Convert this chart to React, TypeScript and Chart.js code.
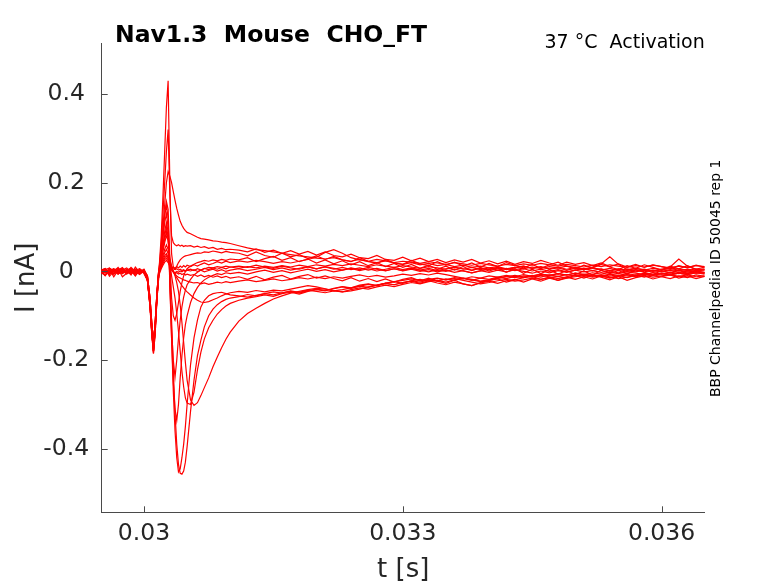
import React, { useEffect, useRef } from 'react';
import { Chart, registerables } from 'chart.js';

Chart.register(...registerables);

// sample times [s] shared by all sweeps
const timeS = [
  0.0295, 0.02955, 0.0296, 0.02965, 0.0297, 0.02975, 0.0298, 0.02985, 0.0299, 0.02995, 0.03,
  0.03004, 0.03007, 0.03009, 0.03011, 0.03013, 0.03015, 0.03017,
  0.0302, 0.03022, 0.03024, 0.03026, 0.03028, 0.0303, 0.03032, 0.03034,
  0.03036, 0.03038, 0.0304, 0.03042, 0.03044, 0.03046, 0.03048, 0.0305,
  0.03054, 0.03058, 0.03062, 0.03066, 0.0307, 0.03075, 0.0308, 0.03085, 0.0309, 0.03095, 0.031,
  0.0311, 0.0312, 0.0313, 0.0314, 0.0315, 0.0316, 0.0317, 0.0318, 0.0319, 0.032,
  0.0321, 0.0322, 0.0323, 0.0324, 0.0325, 0.0326, 0.0327, 0.0328, 0.0329, 0.033,
  0.0331, 0.0332, 0.0333, 0.0334, 0.0335, 0.0336, 0.0337, 0.0338, 0.0339, 0.034,
  0.0341, 0.0342, 0.0343, 0.0344, 0.0345, 0.0346, 0.0347, 0.0348, 0.0349, 0.035,
  0.0351, 0.0352, 0.0353, 0.0354, 0.0355, 0.0356, 0.0357, 0.0358, 0.0359, 0.036,
  0.0361, 0.0362, 0.0363, 0.0364, 0.0365,
];

// current [nA] per sweep
const sweep01 = [
  0.004, -0.003, 0.006, 0.001, -0.005, 0.003, 0.008, -0.002, 0.002, -0.004, 0.001,
  -0.02, -0.075, -0.135, -0.18, -0.13, -0.06, -0.01,
  0.08, 0.17, 0.27, 0.37, 0.43, 0.2, 0.04, 0.01, 0.005, 0.012, 0.02, 0.026, 0.03, 0.033, 0.035, 0.036,
  0.038, 0.04, 0.042, 0.041, 0.044, 0.043, 0.046, 0.044, 0.042, 0.045, 0.043,
  0.041, 0.035, 0.044, 0.036, 0.032, 0.041, 0.033, 0.038, 0.029, 0.035,
  0.027, 0.034, 0.026, 0.022, 0.031, 0.023, 0.018, 0.027, 0.019, 0.016,
  0.025, 0.017, 0.013, 0.022, 0.014, 0.021, 0.012, 0.019, 0.01, 0.018,
  0.011, 0.02, 0.014, 0.008, 0.016, 0.007, 0.015, 0.021, 0.012, 0.006,
  0.014, 0.008, 0.016, 0.01, 0.004, 0.013, 0.007, 0.015, 0.009, 0.003,
  0.012, 0.006, 0.013, 0.005, 0.01,
];
const sweep02 = [
  -0.002, 0.005, -0.004, 0.003, 0.007, -0.001, 0.002, 0.006, -0.003, 0.004, 0.0,
  -0.015, -0.07, -0.125, -0.17, -0.125, -0.055, -0.005,
  0.06, 0.13, 0.2, 0.27, 0.32, 0.17, 0.08, 0.065, 0.06, 0.058, 0.06, 0.057, 0.059, 0.056, 0.058, 0.057,
  0.058, 0.055, 0.057, 0.054, 0.056, 0.052, 0.054, 0.05, 0.052, 0.049, 0.05,
  0.048, 0.044, 0.051, 0.043, 0.048, 0.041, 0.047, 0.039, 0.045, 0.037,
  0.044, 0.036, 0.033, 0.039, 0.031, 0.029, 0.036, 0.027, 0.025, 0.032,
  0.024, 0.03, 0.022, 0.027, 0.02, 0.026, 0.021, 0.027, 0.019, 0.024,
  0.017, 0.023, 0.016, 0.022, 0.018, 0.025, 0.019, 0.014, 0.021, 0.016,
  0.02, 0.013, 0.019, 0.011, 0.017, 0.01, 0.016, 0.009, 0.015, 0.011,
  0.006, 0.013, 0.008, 0.014, 0.009,
];
const sweep03 = [
  0.004, -0.01, 0.002, -0.006, 0.006, -0.012, -0.004, 0.005, -0.009, 0.002, -0.003,
  -0.02, -0.08, -0.14, -0.185, -0.14, -0.065, -0.015,
  0.05, 0.1, 0.15, 0.2, 0.225, 0.215, 0.2, 0.18, 0.16, 0.142, 0.127, 0.113, 0.104, 0.097, 0.092, 0.088,
  0.085, 0.081, 0.077, 0.074, 0.073, 0.071, 0.069, 0.068, 0.066, 0.065, 0.063,
  0.058, 0.053, 0.049, 0.047, 0.044, 0.041, 0.038, 0.035, 0.033, 0.03,
  0.028, 0.031, 0.026, 0.023, 0.027, 0.022, 0.02, 0.024, 0.019, 0.016,
  0.02, 0.015, 0.018, 0.013, 0.016, 0.011, 0.014, 0.009, 0.012, 0.008,
  0.011, 0.006, 0.009, 0.012, 0.007, 0.01, 0.005, 0.008, 0.003, 0.007,
  0.004, 0.008, 0.005, 0.002, 0.006, 0.003, 0.007, 0.004, 0.001, 0.005,
  0.002, 0.006, 0.003, 0.0, 0.004,
];
const sweep04 = [
  -0.005, 0.002, -0.001, 0.006, -0.004, 0.001, -0.006, 0.0, 0.005, -0.002, 0.003,
  -0.01, -0.06, -0.115, -0.16, -0.115, -0.05, 0.0,
  0.04, 0.09, 0.13, 0.158, 0.14, 0.03, -0.06, -0.1, -0.11, -0.095, -0.07, -0.045, -0.025, -0.01, 0.0, 0.006,
  0.012, 0.016, 0.02, 0.022, 0.025, 0.023, 0.026, 0.024, 0.027, 0.025, 0.028,
  0.026, 0.031, 0.022, 0.029, 0.034, 0.025, 0.031, 0.022, 0.028, 0.019,
  0.026, 0.017, 0.024, 0.015, 0.022, 0.013, 0.02, 0.011, 0.018, 0.009,
  0.016, 0.007, 0.014, 0.005, 0.012, 0.003, 0.011, 0.002, 0.009, 0.001,
  0.008, -0.002, 0.006, -0.004, 0.005, -0.005, 0.004, -0.006, 0.002, -0.007,
  0.001, -0.008, 0.003, -0.005, 0.002, -0.006, 0.004, -0.002, -0.007, 0.002,
  -0.004, 0.003, -0.005, 0.002, -0.003,
];
const sweep05 = [
  0.006, 0.0, -0.004, 0.002, -0.002, 0.005, 0.001, -0.005, 0.002, 0.006, -0.001,
  -0.02, -0.075, -0.135, -0.18, -0.13, -0.06, -0.01,
  0.04, 0.085, 0.125, 0.15, 0.12, -0.02, -0.13, -0.2, -0.238, -0.2, -0.15, -0.11, -0.08, -0.058, -0.042, -0.03,
  -0.018, -0.008, -0.002, 0.003, 0.006, 0.009, 0.008, 0.011, 0.009, 0.012, 0.01,
  0.012, 0.009, 0.014, 0.01, 0.007, 0.012, 0.008, 0.005, 0.01, 0.006,
  0.011, 0.007, 0.003, 0.008, 0.004, 0.009, 0.005, 0.001, 0.006, 0.002,
  0.007, 0.003, -0.001, 0.004, 0.0, 0.005, 0.001, -0.003, 0.002, -0.002,
  0.003, -0.001, 0.004, 0.0, -0.004, 0.001, -0.003, 0.002, -0.002, 0.003,
  -0.001, 0.002, -0.002, 0.001, -0.003, 0.002, -0.001, 0.003, -0.002, 0.001,
  -0.002, 0.002, -0.001, 0.001, -0.002,
];
const sweep06 = [
  -0.003, 0.004, 0.008, -0.002, 0.001, -0.005, 0.003, 0.007, -0.004, 0.0, 0.004,
  -0.015, -0.07, -0.125, -0.17, -0.125, -0.055, -0.005,
  0.035, 0.075, 0.11, 0.13, 0.1, -0.03, -0.15, -0.25, -0.31, -0.336, -0.3, -0.24, -0.19, -0.15, -0.12, -0.1,
  -0.07, -0.05, -0.036, -0.026, -0.019, -0.013, -0.009, -0.005, -0.007, -0.003, -0.005,
  -0.002, -0.006, -0.001, 0.003, -0.002, 0.002, -0.003, 0.001, 0.005, 0.0,
  0.004, -0.001, 0.003, 0.007, 0.002, 0.006, 0.001, 0.005, 0.009, 0.004,
  0.008, 0.003, 0.007, 0.002, 0.006, 0.01, 0.005, 0.009, 0.004, 0.008,
  0.003, 0.007, 0.002, 0.006, 0.001, 0.005, 0.0, 0.004, -0.001, 0.003,
  0.007, 0.002, 0.006, 0.001, 0.005, 0.0, 0.004, -0.001, 0.003, 0.0,
  0.004, 0.001, 0.005, 0.002, 0.004,
];
const sweep07 = [
  0.002, -0.008, 0.005, -0.012, 0.003, 0.009, -0.004, 0.002, -0.01, 0.005, -0.005,
  -0.02, -0.08, -0.14, -0.185, -0.14, -0.065, -0.015,
  0.03, 0.06, 0.09, 0.11, 0.09, -0.02, -0.15, -0.27, -0.36, -0.42, -0.452, -0.445, -0.42, -0.39, -0.35, -0.3,
  -0.21, -0.15, -0.11, -0.08, -0.065, -0.055, -0.05, -0.048, -0.047, -0.05, -0.053,
  -0.055, -0.058, -0.054, -0.05, -0.053, -0.048, -0.045, -0.049, -0.044, -0.04,
  -0.043, -0.038, -0.034, -0.037, -0.031, -0.028, -0.032, -0.026, -0.023, -0.027,
  -0.021, -0.018, -0.022, -0.016, -0.019, -0.014, -0.017, -0.012, -0.015, -0.01,
  -0.013, -0.009, -0.012, -0.007, -0.011, -0.006, -0.009, -0.005, -0.008, -0.004,
  -0.007, -0.003, -0.006, -0.002, -0.005, -0.001, -0.004, -0.007, -0.003, -0.006,
  -0.002, -0.005, -0.001, -0.004, -0.002,
];
const sweep08 = [
  -0.004, 0.002, -0.001, 0.005, -0.006, 0.0, 0.004, -0.003, 0.001, -0.002, 0.002,
  -0.02, -0.075, -0.135, -0.18, -0.13, -0.06, -0.01,
  0.025, 0.055, 0.08, 0.1, 0.08, -0.01, -0.11, -0.22, -0.32, -0.39, -0.435, -0.455, -0.457, -0.45, -0.43, -0.395,
  -0.315, -0.245, -0.19, -0.155, -0.125, -0.1, -0.085, -0.075, -0.068, -0.063, -0.06,
  -0.057, -0.052, -0.055, -0.05, -0.046, -0.049, -0.044, -0.047, -0.042, -0.045,
  -0.048, -0.044, -0.046, -0.041, -0.037, -0.04, -0.035, -0.031, -0.034, -0.029,
  -0.025, -0.028, -0.023, -0.02, -0.024, -0.019, -0.016, -0.02, -0.015, -0.018,
  -0.013, -0.016, -0.011, -0.014, -0.009, -0.013, -0.008, -0.011, -0.007, -0.01,
  -0.006, -0.009, -0.012, -0.008, -0.011, -0.007, -0.01, -0.006, -0.009, -0.005,
  -0.008, -0.004, -0.007, -0.003, -0.005,
];
const sweep09 = [
  0.003, 0.007, -0.002, 0.0, 0.004, -0.003, 0.002, -0.006, 0.005, 0.001, -0.001,
  -0.01, -0.06, -0.115, -0.16, -0.115, -0.05, 0.0,
  0.02, 0.045, 0.065, 0.08, 0.07, 0.03, 0.012, 0.0, -0.01, -0.025, -0.045, -0.075, -0.115, -0.16, -0.205, -0.245,
  -0.29, -0.302, -0.296, -0.28, -0.262, -0.24, -0.215, -0.193, -0.172, -0.153, -0.137,
  -0.112, -0.095, -0.083, -0.072, -0.062, -0.055, -0.049, -0.045, -0.041, -0.038,
  -0.04, -0.044, -0.041, -0.037, -0.033, -0.036, -0.031, -0.027, -0.03, -0.025,
  -0.022, -0.027, -0.021, -0.026, -0.03, -0.024, -0.028, -0.032, -0.026, -0.022,
  -0.027, -0.021, -0.018, -0.024, -0.017, -0.022, -0.015, -0.02, -0.013, -0.018,
  -0.012, -0.017, -0.01, -0.015, -0.009, -0.014, -0.008, -0.013, -0.007, -0.012,
  -0.016, -0.01, -0.014, -0.008, -0.011,
];
const sweep10 = [
  -0.002, -0.009, 0.007, 0.002, -0.006, 0.004, -0.002, 0.009, 0.0, -0.007, 0.002,
  -0.015, -0.07, -0.125, -0.17, -0.125, -0.055, -0.005,
  0.015, 0.035, 0.05, 0.06, 0.05, 0.025, 0.01, 0.0, -0.008, -0.014, -0.02, -0.026, -0.032, -0.037, -0.042, -0.046,
  -0.053, -0.06, -0.065, -0.069, -0.07, -0.068, -0.064, -0.06, -0.055, -0.051, -0.048,
  -0.045, -0.047, -0.043, -0.046, -0.042, -0.044, -0.04, -0.036, -0.032, -0.035,
  -0.039, -0.043, -0.046, -0.044, -0.04, -0.035, -0.031, -0.027, -0.023, -0.02,
  -0.017, -0.021, -0.018, -0.015, -0.019, -0.016, -0.02, -0.024, -0.028, -0.025,
  -0.021, -0.018, -0.022, -0.019, -0.015, -0.018, -0.014, -0.011, -0.015, -0.012,
  -0.009, -0.013, -0.01, -0.014, -0.011, -0.008, -0.012, -0.009, -0.013, -0.01,
  -0.007, -0.011, -0.008, -0.012, -0.01,
];
const sweep11 = [
  0.005, -0.002, 0.002, -0.005, 0.003, 0.007, -0.003, 0.001, 0.004, -0.001, 0.002,
  -0.02, -0.075, -0.135, -0.18, -0.13, -0.06, -0.01,
  0.015, 0.03, 0.042, 0.05, 0.04, 0.02, 0.008, 0.0, -0.006, -0.01, -0.013, -0.015, -0.017, -0.019, -0.02, -0.022,
  -0.024, -0.026, -0.025, -0.028, -0.026, -0.029, -0.027, -0.024, -0.026, -0.023, -0.025,
  -0.022, -0.019, -0.023, -0.02, -0.017, -0.021, -0.018, -0.014, -0.017, -0.013,
  -0.016, -0.012, -0.015, -0.011, -0.008, -0.012, -0.009, -0.013, -0.01, -0.006,
  -0.009, -0.005, -0.008, -0.004, -0.007, -0.011, -0.015, -0.019, -0.023, -0.02,
  -0.016, -0.012, -0.009, -0.013, -0.01, -0.006, -0.009, -0.005, -0.008, -0.004,
  -0.007, -0.011, -0.008, -0.012, -0.016, -0.013, -0.01, -0.006, -0.009, -0.005,
  -0.008, -0.004, -0.007, -0.003, -0.006,
];
const sweep12 = [
  -0.006, 0.001, -0.003, 0.004, 0.0, -0.004, 0.005, -0.001, 0.003, -0.005, 0.0,
  -0.01, -0.06, -0.115, -0.16, -0.115, -0.05, 0.0,
  0.012, 0.025, 0.035, 0.04, 0.032, 0.018, 0.01, 0.006, 0.004, 0.006, 0.003, 0.005, 0.002, 0.004, 0.001, 0.003,
  0.005, 0.002, 0.006, 0.003, 0.007, 0.004, 0.008, 0.005, 0.009, 0.006, 0.01,
  0.007, 0.011, 0.008, 0.012, 0.009, 0.013, 0.01, 0.014, 0.011, 0.015,
  0.012, 0.016, 0.013, 0.017, 0.014, 0.011, 0.015, 0.012, 0.009, 0.013,
  0.01, 0.007, 0.011, 0.008, 0.005, 0.009, 0.006, 0.003, 0.007, 0.004,
  0.008, 0.005, 0.009, 0.006, 0.01, 0.007, 0.011, 0.008, 0.012, 0.009,
  0.006, 0.01, 0.017, 0.033, 0.016, 0.004, 0.007, 0.003, 0.007, 0.004,
  0.008, 0.005, 0.002, 0.006, 0.003,
];
const sweep13 = [
  0.002, 0.006, -0.002, -0.006, 0.001, 0.004, -0.002, 0.003, -0.003, 0.002, -0.002,
  -0.015, -0.07, -0.125, -0.17, -0.125, -0.055, -0.005,
  0.01, 0.022, 0.03, 0.035, 0.028, 0.015, 0.005, 0.0, -0.003, 0.0, -0.002, 0.001, -0.001, 0.002, 0.0, 0.003,
  0.001, 0.004, 0.0, 0.003, -0.001, 0.002, 0.005, 0.001, 0.004, 0.0, 0.003,
  0.006, 0.002, 0.005, 0.009, 0.004, 0.008, 0.003, 0.007, 0.011, 0.006,
  0.01, 0.005, 0.009, 0.004, 0.008, 0.003, 0.007, 0.002, 0.006, 0.001,
  0.005, 0.0, 0.004, -0.001, 0.003, -0.002, 0.002, -0.003, 0.001, 0.005,
  0.009, 0.004, 0.008, 0.012, 0.007, 0.011, 0.006, 0.01, 0.005, 0.009,
  0.004, 0.008, 0.003, 0.007, 0.002, 0.006, 0.001, 0.005, 0.0, 0.004,
  0.01, 0.028, 0.012, 0.004, 0.006,
];
const sweep14 = [
  -0.004, 0.006, -0.011, 0.0, 0.009, -0.004, 0.002, -0.008, 0.01, -0.002, 0.005,
  -0.01, -0.06, -0.115, -0.16, -0.115, -0.05, 0.0,
  0.008, 0.018, 0.026, 0.03, 0.024, 0.012, 0.003, -0.002, -0.005, -0.003, -0.006, -0.004, -0.007, -0.005, -0.008, -0.006,
  -0.009, -0.007, -0.011, -0.008, -0.012, -0.009, -0.013, -0.01, -0.014, -0.011, -0.015,
  -0.012, -0.018, -0.011, -0.019, -0.013, -0.009, -0.017, -0.011, -0.007, -0.015,
  -0.01, -0.016, -0.021, -0.014, -0.022, -0.016, -0.023, -0.017, -0.024, -0.018,
  -0.014, -0.021, -0.015, -0.022, -0.027, -0.02, -0.028, -0.032, -0.025, -0.02,
  -0.017, -0.024, -0.019, -0.014, -0.011, -0.018, -0.013, -0.02, -0.015, -0.009,
  -0.015, -0.008, -0.013, -0.019, -0.012, -0.02, -0.014, -0.01, -0.017, -0.012,
  -0.008, -0.015, -0.01, -0.016, -0.011,
];
const sweep15 = [
  0.004, -0.001, 0.002, 0.006, -0.003, 0.0, 0.003, -0.002, -0.005, 0.002, 0.001,
  -0.02, -0.075, -0.135, -0.18, -0.13, -0.06, -0.01,
  0.006, 0.014, 0.021, 0.025, 0.02, 0.012, 0.008, 0.01, 0.007, 0.011, 0.008, 0.012, 0.009, 0.013, 0.01, 0.014,
  0.011, 0.015, 0.012, 0.016, 0.019, 0.015, 0.018, 0.022, 0.019, 0.023, 0.02,
  0.024, 0.021, 0.025, 0.022, 0.018, 0.022, 0.019, 0.023, 0.027, 0.032,
  0.043, 0.049, 0.041, 0.031, 0.026, 0.023, 0.027, 0.024, 0.02, 0.023,
  0.021, 0.018, 0.022, 0.019, 0.016, 0.02, 0.017, 0.014, 0.018, 0.015,
  0.012, 0.016, 0.013, 0.017, 0.014, 0.018, 0.015, 0.012, 0.016, 0.013,
  0.01, 0.014, 0.011, 0.015, 0.012, 0.009, 0.013, 0.01, 0.014, 0.011,
  0.008, 0.012, 0.009, 0.013, 0.011,
];
const sweep16 = [
  -0.003, 0.004, -0.007, 0.002, -0.001, 0.006, -0.005, 0.003, 0.0, -0.006, 0.002,
  -0.015, -0.07, -0.125, -0.17, -0.125, -0.055, -0.005,
  0.025, 0.05, 0.072, 0.09, 0.075, 0.02, -0.01, -0.035, -0.06, -0.095, -0.135, -0.18, -0.225, -0.26, -0.285, -0.297,
  -0.3, -0.272, -0.222, -0.182, -0.152, -0.127, -0.11, -0.096, -0.086, -0.078, -0.072,
  -0.065, -0.06, -0.057, -0.053, -0.056, -0.05, -0.047, -0.051, -0.045, -0.041,
  -0.044, -0.039, -0.035, -0.038, -0.033, -0.029, -0.032, -0.027, -0.03, -0.025,
  -0.021, -0.024, -0.019, -0.022, -0.017, -0.02, -0.015, -0.018, -0.022, -0.019,
  -0.015, -0.011, -0.014, -0.01, -0.013, -0.009, -0.012, -0.016, -0.012, -0.008,
  -0.011, -0.007, -0.01, -0.006, -0.009, -0.005, -0.008, -0.004, -0.007, -0.003,
  -0.006, -0.002, -0.005, -0.001, -0.004,
];

const sweeps = [
  sweep01, sweep02, sweep03, sweep04, sweep05, sweep06, sweep07, sweep08,
  sweep09, sweep10, sweep11, sweep12, sweep13, sweep14, sweep15, sweep16,
];

const xTicks = [0.03, 0.033, 0.036];
const xTickLabels = ['0.03', '0.033', '0.036'];
const yTicks = [-0.4, -0.2, 0, 0.2, 0.4];
const yTickLabels = ['-0.4', '-0.2', '0', '0.2', '0.4'];

const titleText = 'Nav1.3  Mouse  CHO_FT';
const protocolText = '37 °C  Activation';
const sourceText = 'BBP Channelpedia ID 50045 rep 1';

const FONT = '"DejaVu Sans", sans-serif';
const axisColor = '#4a4a4a';
const textColor = '#262626';

// MATLAB-style inward ticks plus the header / side texts
const decorations = {
  id: 'decorations',
  afterDraw(chart: any) {
    const { ctx, chartArea, scales } = chart;
    ctx.save();
    ctx.strokeStyle = axisColor;
    ctx.lineWidth = 1;
    ctx.beginPath();
    xTicks.forEach((v) => {
      const px = Math.round(scales.x.getPixelForValue(v)) + 0.5;
      ctx.moveTo(px, chartArea.bottom);
      ctx.lineTo(px, chartArea.bottom - 6);
    });
    yTicks.forEach((v) => {
      const py = Math.round(scales.y.getPixelForValue(v)) + 0.5;
      ctx.moveTo(chartArea.left, py);
      ctx.lineTo(chartArea.left + 6, py);
    });
    ctx.stroke();

    ctx.fillStyle = '#000';
    ctx.textBaseline = 'alphabetic';
    ctx.textAlign = 'left';
    ctx.font = `bold 23.5px ${FONT}`;
    ctx.fillText(titleText, 115, 41.7);

    ctx.textAlign = 'right';
    ctx.font = `19px ${FONT}`;
    ctx.fillText(protocolText, chartArea.right, 47.5);

    ctx.translate(716.7, 278.3);
    ctx.rotate(-Math.PI / 2);
    ctx.textAlign = 'center';
    ctx.textBaseline = 'middle';
    ctx.font = `14px ${FONT}`;
    ctx.fillText(sourceText, 0, 0);
    ctx.restore();
  },
};

const App: React.FC = () => {
  const canvasRef = useRef<HTMLCanvasElement>(null);
  const chartRef = useRef<Chart | null>(null);

  useEffect(() => {
    if (!canvasRef.current) return;
    if (chartRef.current) chartRef.current.destroy();

    chartRef.current = new Chart(canvasRef.current, {
      type: 'line',
      data: {
        datasets: sweeps.map((s) => ({
          data: timeS.map((t, i) => ({ x: t, y: s[i] })),
          borderColor: '#ff0000',
          borderWidth: 1.2,
          pointRadius: 0,
          fill: false,
          tension: 0,
        })),
      },
      options: {
        responsive: false,
        animation: false,
        events: [],
        layout: { padding: { top: 43.3, right: 73.3, left: 0, bottom: 0 } },
        plugins: {
          legend: { display: false },
          tooltip: { enabled: false },
        },
        scales: {
          x: {
            type: 'linear',
            min: 0.02951,
            max: 0.0365,
            afterBuildTicks: (scale: any) => {
              scale.ticks = xTicks.map((value) => ({ value }));
            },
            afterFit: (scale: any) => {
              scale.height = 70.7;
            },
            grid: { display: false, drawTicks: false },
            border: { display: true, color: axisColor, width: 1 },
            ticks: {
              color: textColor,
              font: { family: FONT, size: 23.5 },
              padding: 7,
              maxRotation: 0,
              autoSkip: false,
              callback: (_v: any, i: number) => xTickLabels[i],
            },
            title: {
              display: true,
              text: 't [s]',
              color: textColor,
              font: { family: FONT, size: 26 },
              padding: { top: 0, bottom: -3 },
            },
          },
          y: {
            type: 'linear',
            min: -0.5431,
            max: 0.5144,
            afterBuildTicks: (scale: any) => {
              scale.ticks = yTicks.map((value) => ({ value }));
            },
            afterFit: (scale: any) => {
              scale.width = 101.7;
            },
            grid: { display: false, drawTicks: false },
            border: { display: true, color: axisColor, width: 1 },
            ticks: {
              color: textColor,
              font: { family: FONT, size: 23.5 },
              padding: 12.5,
              crossAlign: 'center',
              autoSkip: false,
              callback: (_v: any, i: number) => yTickLabels[i],
            },
            title: {
              display: true,
              text: 'I [nA]',
              color: textColor,
              font: { family: FONT, size: 26 },
              padding: { top: 12, bottom: 0 },
            },
          },
        },
      },
      plugins: [decorations],
    } as any);

    return () => {
      if (chartRef.current) {
        chartRef.current.destroy();
        chartRef.current = null;
      }
    };
  }, []);

  return (
    <div style={{ position: 'fixed', left: 0, top: 0, width: 778, height: 583, background: '#fff' }}>
      <canvas ref={canvasRef} width={778} height={583} style={{ width: 778, height: 583 }} />
    </div>
  );
};

export default App;
